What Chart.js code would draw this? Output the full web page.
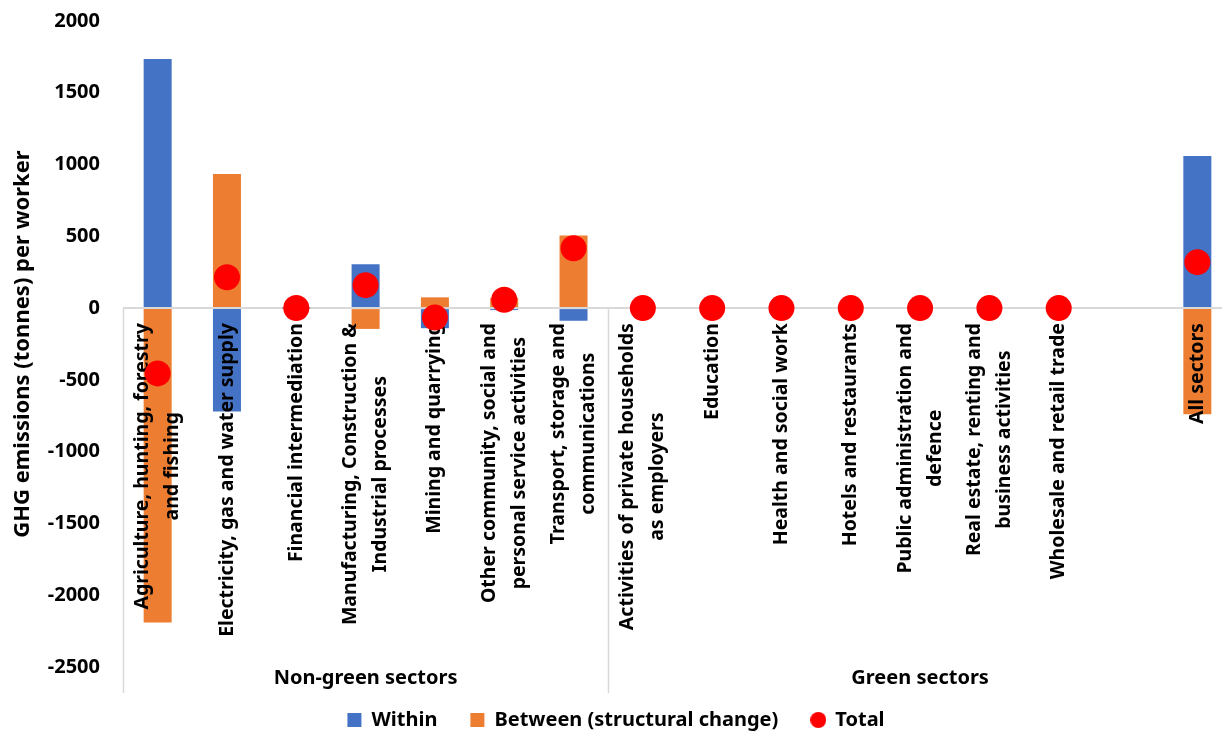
<!DOCTYPE html>
<html>
<head>
<meta charset="utf-8">
<title>GHG emissions per worker - within / between decomposition</title>
<script src="https://cdn.jsdelivr.net/npm/chart.js@4.4.1/dist/chart.umd.min.js"></script>
<style>
    html, body { margin: 0; padding: 0; background: #fff; overflow: hidden; }
    #wrap { width: 1232px; height: 732px; }
</style>
</head>
<body>
<div id="wrap"><canvas id="chart" width="1232" height="732"></canvas></div>
<script>
// Sector labels (one entry per line of the label)
const sectorLabels = [
    ['Agriculture, hunting, forestry', 'and fishing'],
    ['Electricity, gas and water supply'],
    ['Financial intermediation'],
    ['Manufacturing, Construction &', 'Industrial processes'],
    ['Mining and quarrying'],
    ['Other community, social and', 'personal service activities'],
    ['Transport, storage and', 'communications'],
    ['Activities of private households', 'as employers'],
    ['Education'],
    ['Health and social work'],
    ['Hotels and restaurants'],
    ['Public administration and', 'defence'],
    ['Real estate, renting and', 'business activities'],
    ['Wholesale and retail trade'],
    [''],
    ['All sectors']
];

const withinValues  = [1735, -720, 2, 305, -140, -14, -88, 0, 0, 0, 0, 0, 0, 0, null, 1060];
const betweenValues = [-2190, 935, -1, -145, 75, 72, 505, 0, 0, 0, 0, 0, 0, 0, null, -740];
const totalValues   = [-455, 215, 1, 160, -65, 58, 417, 0, 0, 0, 0, 0, 0, 0, null, 320];

// Groups on the category axis: name, first index, last index
const groupNames = ['Non-green sectors', 'Green sectors'];
const groupFirst = [0, 7];
const groupLast  = [6, 15];

const yMin = -2500;
const yMax = 2000;
const yStep = 500;

const FONT = "'Noto Sans', sans-serif";
Chart.defaults.font.family = FONT;
Chart.defaults.color = '#000';

// small red dot for the legend entry of Total
const dotIcon = document.createElement('canvas');
dotIcon.width = 16;
dotIcon.height = 16;
(function () {
    const c = dotIcon.getContext('2d');
    c.fillStyle = '#ff0000';
    c.beginPath();
    c.arc(8, 8, 8, 0, Math.PI * 2);
    c.fill();
})();

const sectorAxis = {
    id: 'sectorAxis',
    // labels go above the bars but below the red dots
    beforeDatasetDraw(chart, args) {
        if (args.index !== 2) return;
        const ctx = chart.ctx;
        const x = chart.scales.x;
        const y0 = chart.scales.y.getPixelForValue(0);
        const lineGap = 30;
        ctx.save();
        ctx.font = 'bold 19.5px ' + FONT;
        ctx.fillStyle = '#000';
        ctx.textBaseline = 'middle';
        ctx.textAlign = 'center';
        sectorLabels.forEach((lines, i) => {
            const cx = x.getPixelForValue(i);
            const w = Math.max(...lines.map(l => ctx.measureText(l).width));
            ctx.save();
            ctx.translate(cx, y0 + 15);
            ctx.rotate(-Math.PI / 2);
            lines.forEach((line, k) => {
                ctx.fillText(line, -w / 2, (k - (lines.length - 1) / 2) * lineGap);
            });
            ctx.restore();
        });
        ctx.restore();
    },
    afterDraw(chart) {
        const ctx = chart.ctx;
        const x = chart.scales.x;
        const y0 = chart.scales.y.getPixelForValue(0);
        const half = (x.getPixelForValue(1) - x.getPixelForValue(0)) / 2;
        ctx.save();
        ctx.strokeStyle = '#d9d9d9';
        ctx.lineWidth = 1.5;
        groupFirst.forEach(first => {
            const bx = Math.round(x.getPixelForValue(first) - half) + 0.5;
            ctx.beginPath();
            ctx.moveTo(bx, y0);
            ctx.lineTo(bx, 693);
            ctx.stroke();
        });
        ctx.font = 'bold 20px ' + FONT;
        ctx.fillStyle = '#000';
        ctx.textAlign = 'center';
        ctx.textBaseline = 'alphabetic';
        groupNames.forEach((name, g) => {
            const left = x.getPixelForValue(groupFirst[g]) - half;
            const right = x.getPixelForValue(groupLast[g]) + half;
            ctx.fillText(name, (left + right) / 2, 684);
        });
        ctx.restore();
    }
};

const chart = new Chart(document.getElementById('chart'), {
    type: 'bar',
    data: {
        labels: sectorLabels.map(l => l.join(' ')),
        datasets: [
            {
                label: 'Within',
                data: withinValues,
                backgroundColor: '#4472c4',
                borderWidth: 0,
                pointStyle: 'rect',
                barPercentage: 0.404,
                categoryPercentage: 1
            },
            {
                label: 'Between (structural change)',
                data: betweenValues,
                backgroundColor: '#ed7d31',
                borderWidth: 0,
                pointStyle: 'rect',
                barPercentage: 0.404,
                categoryPercentage: 1
            },
            {
                type: 'line',
                label: 'Total',
                data: totalValues,
                stack: 'total',
                showLine: false,
                order: -1,
                pointRadius: 13,
                pointHoverRadius: 13,
                pointBackgroundColor: '#ff0000',
                pointBorderWidth: 0,
                backgroundColor: '#ff0000',
                borderColor: '#ff0000'
            }
        ]
    },
    options: {
        responsive: false,
        animation: false,
        layout: { autoPadding: false, padding: { top: 21, right: 0, bottom: -8, left: 0 } },
        scales: {
            x: {
                stacked: true,
                grid: { display: false },
                border: { display: false },
                ticks: { display: false },
                afterFit(scale) { scale.height = 10; }
            },
            y: {
                stacked: true,
                min: yMin,
                max: yMax,
                border: { display: false },
                grid: {
                    drawTicks: true,
                    tickLength: 23,
                    tickColor: 'rgba(0,0,0,0)',
                    lineWidth: 2,
                    color: c => (c.tick && c.tick.value === 0) ? '#d9d9d9' : 'rgba(0,0,0,0)'
                },
                ticks: {
                    stepSize: yStep,
                    padding: 0,
                    color: '#000',
                    font: { size: 20, weight: 'bold' },
                    callback: v => String(v)
                },
                title: {
                    display: true,
                    text: 'GHG emissions (tonnes) per worker',
                    color: '#000',
                    font: { size: 22, weight: 'bold' },
                    padding: { top: 10, bottom: 0 }
                },
                afterFit(scale) { scale.width = 123; }
            }
        },
        plugins: {
            tooltip: { enabled: false },
            legend: {
                position: 'bottom',
                labels: {
                    usePointStyle: true,
                    boxWidth: 14,
                    boxHeight: 14,
                    padding: 33,
                    color: '#000',
                    font: { size: 20, weight: 'bold' },
                    generateLabels(chart) {
                        const items = Chart.defaults.plugins.legend.labels.generateLabels(chart);
                        items.forEach(item => {
                            item.pointStyle = item.datasetIndex === 2 ? dotIcon : 'rect';
                            item.lineWidth = 0;
                        });
                        return items.sort((a, b) => a.datasetIndex - b.datasetIndex);
                    }
                }
            }
        }
    },
    plugins: [sectorAxis]
});
</script>
</body>
</html>
